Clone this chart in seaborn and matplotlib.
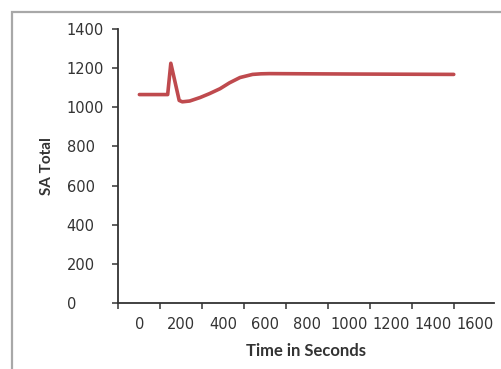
import pandas as pd
import seaborn as sns
import matplotlib
matplotlib.use("Agg")
import matplotlib.pyplot as plt
from matplotlib.patches import Rectangle
from matplotlib.ticker import FixedLocator

# data
time_s = [0, 135, 150, 190, 205, 240, 290, 335, 385, 430, 480, 540, 580, 620, 1000, 1500]
sa_total = [1065, 1065, 1225, 1035, 1028, 1032, 1050, 1070, 1095, 1125, 1152, 1168, 1171, 1172, 1170, 1168]
x_labels = [0, 200, 400, 600, 800, 1000, 1200, 1400, 1600]
y_ticks = [0, 200, 400, 600, 800, 1000, 1200, 1400]

df = pd.DataFrame({"Time in Seconds": time_s, "SA Total": sa_total})

sns.set_style("white")
plt.rcParams['font.family'] = ['DejaVu Sans']

fig = plt.figure(figsize=(5.02, 3.69), dpi=100)
ax = fig.add_axes([118/502, 1 - 303/369, (494 - 118)/502, (303 - 29)/369])

sns.lineplot(data=df, x="Time in Seconds", y="SA Total", ax=ax,
             color="#bf4a4e", linewidth=2.6)

ax.set_xlim(-102, 1692)
ax.set_ylim(0, 1400)

# labels sit between tick marks, like an excel category axis
ax.xaxis.set_major_locator(FixedLocator(x_labels))
ax.xaxis.set_minor_locator(FixedLocator([v - 100 for v in x_labels] + [1700]))
ax.tick_params(axis='x', which='major', length=0, pad=10, labelsize=10.5, colors='#333333')
ax.tick_params(axis='x', which='minor', length=4, width=1.1, direction='out', color='#333333', bottom=True)

ax.set_yticks(y_ticks)
ax.tick_params(axis='y', length=4, width=1.1, direction='out', pad=33,
               labelsize=10.5, colors='#333333', left=True)
for lbl in ax.get_yticklabels():
    lbl.set_horizontalalignment('left')

for side in ['top', 'right']:
    ax.spines[side].set_visible(False)
for side in ['left', 'bottom']:
    ax.spines[side].set_color('#333333')
    ax.spines[side].set_linewidth(1.3)

ax.set_xlabel("Time in Seconds", fontsize=12, fontweight='bold', family='Lato', color='#333333')
ax.set_ylabel("SA Total", fontsize=11, fontweight='bold', family='Lato', color='#333333', va='center')
ax.xaxis.set_label_coords(0.5, -0.145)
ax.yaxis.set_label_coords(-0.188, 0.5)

# grey frame round the chart
fig.patches.append(Rectangle((12/502, -0.2), 1.2, 1.2 - 12/369,
                             transform=fig.transFigure, fill=False,
                             edgecolor='#a8a8a8', linewidth=1.6))

fig.savefig("out.png", dpi=100)
